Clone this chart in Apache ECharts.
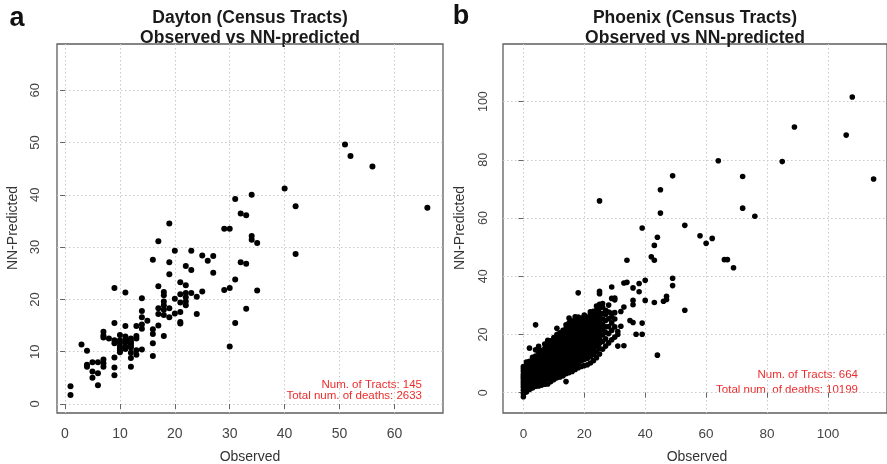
<!DOCTYPE html>
<html>
<head>
<meta charset="utf-8">
<script src="https://cdn.jsdelivr.net/npm/echarts@6/dist/echarts.min.js"></script>
<style>
html,body{margin:0;padding:0;background:#fff;}
#chart{width:887px;height:464px;}
</style>
</head>
<body>
<div id="chart"></div>
<script>
// ---- Data ----
const daytonTicks = [0, 10, 20, 30, 40, 50, 60];
const phoenixTicks = [0, 20, 40, 60, 80, 100];

// Dayton: [observed, [NN-predicted values]]
const daytonGroups = [
  [1, [3.4, 1.7]],
  [3, [11.4]],
  [4, [10.2, 7.5, 7.1]],
  [5, [8.0, 6.2, 5.0]],
  [6, [8.0, 5.9, 3.6]],
  [7, [13.8, 13.1, 12.7, 8.5, 7.8, 7.1]],
  [8, [12.5]],
  [9, [22.2, 15.5, 12.2, 11.6, 8.9, 7.0, 5.5]],
  [10, [13.2, 12.2, 11.6, 11.0, 10.6, 9.9, 10.2]],
  [11, [21.3, 14.9, 12.9, 12.3, 11.8, 11.0, 10.5]],
  [12, [12.5, 12.0, 11.6, 11.2, 10.8, 9.8, 8.8, 7.1]],
  [13, [14.9, 13.0, 12.5, 10.3, 9.4]],
  [14, [20.2, 17.8, 16.6, 15.2, 14.4, 10.4]],
  [15, [15.9]],
  [16, [27.6, 14.3, 13.4, 11.6, 9.2]],
  [17, [31.1, 22.5, 18.3, 17.2, 15.0]],
  [18, [21.4, 20.8, 19.6, 18.9, 18.0, 17.0, 13.0]],
  [19, [34.5, 27.1, 24.8, 18.3, 16.6]],
  [20, [29.3, 20.1, 17.3]],
  [21, [23.3, 21.0, 19.4, 17.6, 15.7, 15.4]],
  [22, [26.4, 22.7, 21.2, 20.4, 19.6, 18.9]],
  [23, [29.3, 25.6, 21.2]],
  [24, [20.5, 17.2]],
  [25, [28.4, 21.5]],
  [26, [27.4]],
  [27, [28.3, 25.1]],
  [29, [33.5, 21.8]],
  [30, [33.5, 22.2, 11.0]],
  [31, [39.2, 23.8, 15.5]],
  [32, [36.4, 27.1]],
  [33, [36.1, 26.8, 18.2]],
  [34, [40.0, 32.1, 31.4]],
  [35, [30.8, 21.7]],
  [40, [41.2]],
  [42, [37.8, 28.7]],
  [51, [49.6]],
  [52, [47.4]],
  [56, [45.4]],
  [66, [37.5]]
];

// Phoenix dense cluster: [observed, [NN-predicted values]]
const phoenixGroups = [
  [0, [-1.4, -0.3, 0.8, 1.9, 2.6, 3.4, 4.1, 4.9, 5.6, 6.3, 7.4, 8.2, 9.0]],
  [1, [0.2, 1.3, 2.4, 3.1, 3.9, 4.7, 5.5, 6.2, 7.0, 8.1, 9.6, 10.5]],
  [2, [1.1, 2.2, 3.3, 4.0, 4.8, 5.9, 6.6, 7.4, 8.3, 9.5, 10.8, 15.3]],
  [3, [1.6, 2.7, 3.8, 4.6, 5.3, 6.1, 6.9, 7.8, 8.6, 9.7, 11.0, 12.2]],
  [4, [2.2, 3.3, 4.4, 5.2, 6.0, 6.8, 7.5, 8.3, 9.2, 10.1, 11.3, 12.6, 14.7, 23.3]],
  [5, [2.3, 3.0, 4.6, 5.7, 6.5, 7.3, 8.0, 8.8, 9.6, 10.5, 11.6, 12.8, 14.1, 15.9]],
  [6, [2.6, 3.9, 5.1, 6.2, 7.0, 7.9, 8.7, 9.4, 10.3, 11.1, 12.0, 13.2, 14.5]],
  [7, [2.9, 4.3, 5.6, 6.8, 7.7, 8.5, 9.3, 10.2, 11.0, 11.8, 12.7, 13.9, 15.2, 16.7]],
  [8, [3.0, 4.8, 6.1, 7.3, 8.2, 9.0, 9.9, 10.7, 11.6, 12.4, 13.3, 14.4, 15.6, 17.3, 18.0]],
  [9, [3.8, 5.2, 6.6, 7.8, 8.8, 9.6, 10.5, 11.3, 12.2, 13.0, 13.9, 15.0, 16.2, 17.8]],
  [10, [4.5, 5.8, 7.1, 8.4, 9.3, 10.1, 11.0, 11.9, 12.7, 13.6, 14.5, 15.5, 16.8, 17.6, 18.9]],
  [11, [5.1, 6.4, 7.7, 8.9, 9.9, 10.8, 11.6, 12.5, 13.3, 14.2, 15.1, 16.1, 17.3, 18.6, 20.0, 22.1]],
  [12, [5.4, 6.9, 8.2, 9.5, 10.4, 11.3, 12.2, 13.0, 13.9, 14.8, 15.6, 16.6, 17.8, 19.1, 20.6]],
  [13, [5.8, 7.4, 8.8, 10.0, 11.0, 11.9, 12.8, 13.6, 14.5, 15.3, 16.2, 17.2, 18.4, 19.7, 21.4]],
  [14, [3.8, 6.5, 8.0, 9.3, 10.6, 11.6, 12.5, 13.3, 14.2, 15.0, 15.9, 16.8, 17.8, 19.0, 20.3, 22.1, 23.3]],
  [15, [6.9, 8.6, 9.9, 11.1, 12.1, 13.1, 14.0, 14.8, 15.7, 16.5, 17.4, 18.4, 19.6, 20.9, 22.6, 24.0, 25.6]],
  [16, [7.3, 9.1, 10.5, 11.7, 12.7, 13.7, 14.6, 15.5, 16.3, 17.2, 18.1, 19.1, 20.3, 21.6, 23.2, 24.6]],
  [17, [8.0, 9.8, 11.2, 12.4, 13.4, 14.3, 15.2, 16.1, 17.0, 17.9, 18.8, 19.8, 21.0, 22.4, 23.9, 25.2, 26.1]],
  [18, [8.6, 10.3, 11.8, 13.0, 14.1, 15.0, 15.9, 16.8, 17.7, 18.6, 19.6, 20.6, 21.9, 23.3, 24.5, 26.0, 34.3]],
  [19, [9.0, 10.9, 12.4, 13.7, 14.8, 15.8, 16.7, 17.6, 18.5, 19.4, 20.4, 21.5, 22.8, 24.1, 25.6]],
  [20, [9.3, 11.4, 13.0, 14.3, 15.5, 16.5, 17.5, 18.4, 19.3, 20.3, 21.3, 22.4, 23.6, 24.9, 26.2, 26.7]],
  [21, [9.6, 11.8, 13.5, 15.0, 16.2, 17.3, 18.3, 19.3, 20.2, 21.2, 22.3, 23.4, 24.6, 26.0]],
  [22, [10.2, 12.4, 14.2, 15.7, 17.0, 18.1, 19.1, 20.1, 21.1, 22.2, 23.3, 24.5, 25.8, 27.0, 27.8]],
  [23, [11.0, 13.1, 14.9, 16.4, 17.8, 19.0, 20.0, 21.0, 22.1, 23.2, 24.3, 25.5, 26.7, 28.0]],
  [24, [12.0, 14.0, 15.8, 17.4, 18.7, 19.9, 21.0, 22.1, 23.2, 24.4, 25.6, 26.9, 28.3, 29.8]],
  [25, [13.3, 15.2, 17.0, 18.6, 19.8, 21.0, 22.2, 23.4, 24.7, 26.0, 27.4, 29.0, 30.4, 34.0, 34.8, 65.9]],
  [26, [14.9, 17.6, 19.8, 21.6, 23.5, 25.3, 27.2, 29.4, 30.6]],
  [27, [16.0, 18.5, 20.7, 22.6, 24.8, 26.9, 28.3]],
  [28, [17.1, 20.3, 22.7, 25.4, 27.7, 30.1]],
  [29, [18.2, 21.4, 24.0, 26.0, 27.3, 32.4, 36.3]],
  [30, [19.1, 22.6, 25.3, 27.5, 31.9, 32.5]]
];

// Phoenix sparse points beyond the cluster: [observed, NN-predicted]
const phoenixSparse = [
  [31, 21.0], [31, 16.0], [31, 20.0], [32, 22.8], [32, 27.9], [33, 16.1], [33, 29.4], [33, 37.7],
  [34, 37.9], [34, 45.5], [35, 24.8], [36, 24.1], [36, 31.7], [36, 30.2], [36, 36.0],
  [37, 20.1], [38, 37.5], [38, 34.7], [39, 20.1], [39, 23.9], [39, 56.6], [40, 38.6],
  [40, 31.7], [42, 46.7], [43, 45.5], [43, 50.6], [43, 31.0], [44, 53.4], [44, 12.9],
  [45, 69.7], [45, 61.7], [46, 31.4], [47, 32.0], [47, 33.1], [49, 39.3], [49, 36.8],
  [49, 74.5], [53, 57.5], [53, 28.3], [58, 53.9], [60, 51.3], [62, 53.0], [64, 79.7],
  [66, 45.7], [67, 45.7], [69, 42.9], [72, 74.3], [72, 63.4], [76, 60.6], [85, 79.4],
  [89, 91.3], [106, 88.5], [108, 101.6], [115, 73.4]
];

const daytonNote = ['Num. of Tracts: 145', 'Total num. of deaths: 2633'];
const phoenixNote = ['Num. of Tracts: 664', 'Total num. of deaths: 10199'];

// ---- Build ----
function expand(groups) {
  const out = [];
  groups.forEach(function (g) { g[1].forEach(function (y) { out.push([g[0], y]); }); });
  return out;
}
const daytonData = expand(daytonGroups);
const phoenixData = expand(phoenixGroups).concat(phoenixSparse);

const FONT = '"Liberation Sans", Arial, Helvetica, sans-serif';
const gridLine = { show: true, lineStyle: { color: '#c9c9c9', width: 1, type: [1.5, 2.5] } };

function xAxisCfg(idx, min, max, ticks, fs) {
  return {
    gridIndex: idx, type: 'value', min: min, max: max,
    axisLine: { show: false },
    axisTick: { show: true, length: 5, lineStyle: { color: '#666' }, customValues: ticks },
    axisLabel: { customValues: ticks, margin: 14, fontSize: fs, color: '#444', fontFamily: FONT },
    splitLine: gridLine
  };
}
function yAxisCfg(idx, min, max, ticks, fs, margin) {
  return {
    gridIndex: idx, type: 'value', min: min, max: max,
    axisLine: { show: false },
    axisTick: { show: true, length: 5, lineStyle: { color: '#666' }, customValues: ticks },
    axisLabel: { customValues: ticks, rotate: 90, margin: margin, fontSize: fs, color: '#444', fontFamily: FONT },
    splitLine: gridLine
  };
}

function txt(x, y, text, font, color, align, rot) {
  return {
    type: 'text', x: x, y: y, rotation: rot || 0, silent: true,
    style: { text: text, font: font, fill: color, textAlign: align || 'center', textVerticalAlign: 'middle' }
  };
}

const red = '#ec2c2c';
const chart = echarts.init(document.getElementById('chart'), null, { renderer: 'canvas' });
chart.setOption({
  animation: false,
  backgroundColor: '#fff',
  grid: [
    { left: 57, top: 44, width: 386, height: 369, show: true, borderColor: '#5e5e5e', borderWidth: 1.3, containLabel: false },
    { left: 503, top: 44, width: 384, height: 369, show: true, borderColor: '#5e5e5e', borderWidth: 1.3, containLabel: false }
  ],
  xAxis: [
    xAxisCfg(0, -1.46, 68.85, daytonTicks, 14),
    xAxisCfg(1, -6.7, 119.4, phoenixTicks, 13.5)
  ],
  yAxis: [
    yAxisCfg(0, -1.72, 68.83, daytonTicks, 13, 15),
    yAxisCfg(1, -6.98, 119.8, phoenixTicks, 12.5, 13)
  ],
  series: [
    { type: 'scatter', xAxisIndex: 0, yAxisIndex: 0, data: daytonData, symbol: 'circle', symbolSize: 6,
      itemStyle: { color: '#000', opacity: 1 }, silent: true },
    { type: 'scatter', xAxisIndex: 1, yAxisIndex: 1, data: phoenixData, symbol: 'circle', symbolSize: 5.6,
      itemStyle: { color: '#000', opacity: 1 }, silent: true }
  ],
  graphic: [
    txt(17, 19, 'a', 'bold 27px ' + FONT, '#111'),
    txt(461, 17, 'b', 'bold 27px ' + FONT, '#111'),
    txt(250, 18, 'Dayton (Census Tracts)', 'bold 17.5px ' + FONT, '#1a1a1a'),
    txt(250, 38, 'Observed vs NN-predicted', 'bold 17.5px ' + FONT, '#1a1a1a'),
    txt(695, 18, 'Phoenix (Census Tracts)', 'bold 17.5px ' + FONT, '#1a1a1a'),
    txt(695, 38, 'Observed vs NN-predicted', 'bold 17.5px ' + FONT, '#1a1a1a'),
    txt(250, 457, 'Observed', '14px ' + FONT, '#333'),
    txt(697, 457, 'Observed', '14px ' + FONT, '#333'),
    txt(13, 228, 'NN-Predicted', '14px ' + FONT, '#333', 'center', Math.PI / 2),
    txt(460, 228, 'NN-Predicted', '14px ' + FONT, '#333', 'center', Math.PI / 2),
    txt(422, 385, daytonNote[0], '11.5px ' + FONT, red, 'right'),
    txt(422, 395.5, daytonNote[1], '11.5px ' + FONT, red, 'right'),
    txt(858, 375, phoenixNote[0], '11.5px ' + FONT, red, 'right'),
    txt(858, 390, phoenixNote[1], '11.5px ' + FONT, red, 'right')
  ]
});
</script>
</body>
</html>
